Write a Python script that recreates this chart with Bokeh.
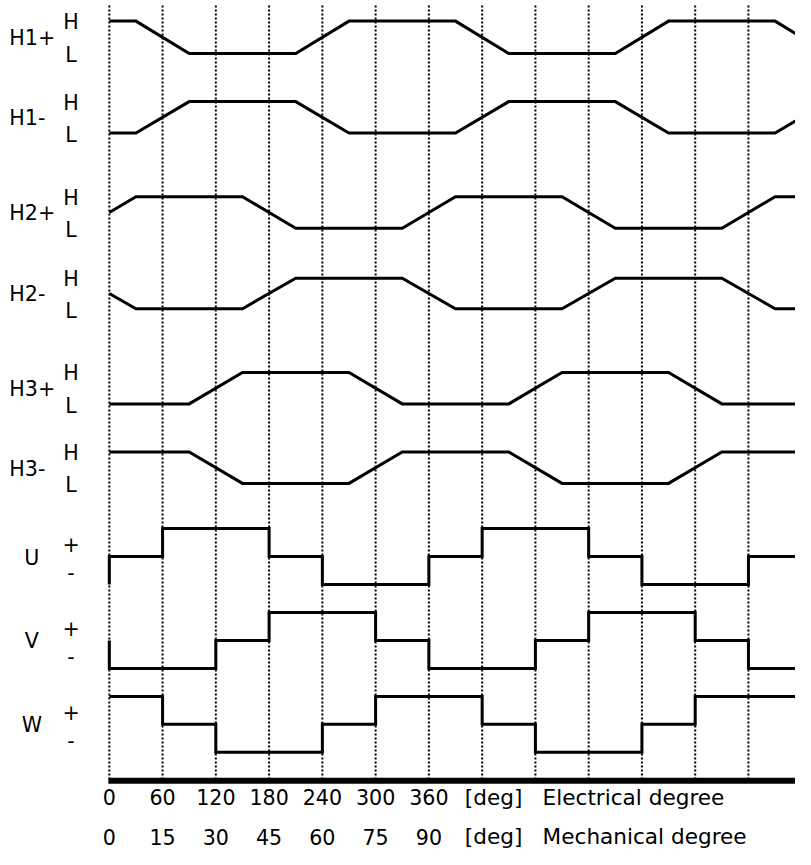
import numpy as np
from bokeh.plotting import figure
from bokeh.models import Range1d
from bokeh.core.properties import value
from bokeh.embed import file_html
from bokeh.resources import INLINE

# ---------------- data (electrical degrees) ----------------
grid_deg = [0, 60, 120, 180, 240, 300, 360, 420, 480, 540, 600, 660, 720]
elec_ticks = [0, 60, 120, 180, 240, 300, 360]
mech_ticks = [0, 15, 30, 45, 60, 75, 90]
pole_pairs = 4
ramp_deg = 60          # width of each Hall transition

hall_names = ["H1+", "H1-", "H2+", "H2-", "H3+", "H3-"]
# centres of transitions, and level (1 = H, 0 = L) before the first one
h1p_edges = [60, 240, 420, 600, 780]
h1p_start = 1
h1m_edges = [60, 240, 420, 600, 780]
h1m_start = 0
h2p_edges = [0, 180, 360, 540, 720]
h2p_start = 0
h2m_edges = [0, 180, 360, 540, 720]
h2m_start = 1
h3p_edges = [120, 300, 480, 660]
h3p_start = 0
h3m_edges = [120, 300, 480, 660]
h3m_start = 1

phase_names = ["U", "V", "W"]
seg_start = [0, 60, 120, 180, 240, 300, 360, 420, 480, 540, 600, 660, 720]
u_levels = [0, 1, 1, 0, -1, -1, 0, 1, 1, 0, -1, -1, 0]
v_levels = [-1, -1, 0, 1, 1, 0, -1, -1, 0, 1, 1, 0, -1]
w_levels = [1, 0, -1, -1, 0, 1, 1, 0, -1, -1, 0, 1, 1]
u_prev, v_prev, w_prev = -1, 0, 1

# ---------------- layout ----------------
REF_W, REF_H = 811, 865            # design coordinates
W, H = 795, 849                    # actual canvas
SC = W / REF_W
PX_PER_DEG = 652.0 / 720.0         # design px per degree
X0 = 111.0                         # design x of 0 deg
x_start = (0 - X0) / PX_PER_DEG
x_end = (REF_W - X0) / PX_PER_DEG


def px(sx):
    """design x (pixels) -> data x (deg)"""
    return (sx - X0) / PX_PER_DEG


def fs(v):
    return "%.1fpx" % (v * SC)


p = figure(width=W, height=H, output_backend="svg", toolbar_location=None,
           x_axis_type=None, y_axis_type=None,
           x_range=Range1d(x_start, x_end), y_range=Range1d(REF_H, 0),
           min_border=0, min_border_left=0, min_border_right=0,
           min_border_top=0, min_border_bottom=0)
p.outline_line_color = None
p.grid.visible = False
p.background_fill_color = "white"
p.border_fill_color = "white"

FONT = value("DejaVu Sans")

# dotted vertical guides
p.segment(x0=grid_deg, x1=grid_deg, y0=[5] * len(grid_deg), y1=[793] * len(grid_deg),
          line_color="black", line_width=2, line_dash="2 2")

# axis line
p.segment(x0=[px(110)], x1=[x_end + 10], y0=[795], y1=[795],
          line_color="black", line_width=6, line_cap="butt")

# Hall rows: (y of H, y of L) in design pixels
hall_rows = [(21, 54), (103, 135), (200, 232), (283, 314), (379, 411), (460, 492)]
hall_data = [(h1p_edges, h1p_start), (h1m_edges, h1m_start), (h2p_edges, h2p_start),
             (h2m_edges, h2m_start), (h3p_edges, h3p_start), (h3m_edges, h3m_start)]


def hall_vertices(edges, start):
    lvl = start
    xs, ys = [-90.0], [float(lvl)]
    for c in edges:
        xs.append(c - ramp_deg / 2); ys.append(lvl)
        lvl = 1 - lvl
        xs.append(c + ramp_deg / 2); ys.append(lvl)
    xs.append(850.0); ys.append(lvl)
    xs, ys = np.array(xs), np.array(ys, dtype=float)
    y0 = np.interp(0.0, xs, ys)
    keep = xs > 0
    return np.concatenate([[0.0], xs[keep]]), np.concatenate([[y0], ys[keep]])


for name, (yh, yl), (edges, start) in zip(hall_names, hall_rows, hall_data):
    xs, lv = hall_vertices(edges, start)
    ys = yl + lv * (yh - yl)
    p.line(xs, ys, line_color="black", line_width=3, line_join="miter")
    ym = (yh + yl) / 2
    p.text([px(9)], [ym + 1], text=[name], text_font=FONT, text_font_size=fs(21),
           text_align="left", text_baseline="middle", text_color="black")
    p.text([px(72), px(72)], [yh + 1, yl + 2], text=["H", "L"], text_font=FONT,
           text_font_size=fs(21), text_align="center", text_baseline="middle",
           text_color="black")

# phase rows: middle level y, half spacing
phase_mid = [566.5, 652.0, 737.5]
HALF = 28.5
phase_data = [(u_levels, u_prev), (v_levels, v_prev), (w_levels, w_prev)]
seg_end = seg_start[1:] + [seg_start[-1] + 120]

for name, ym, (levels, prev) in zip(phase_names, phase_mid, phase_data):
    xs = [0]
    ys = [ym - prev * HALF]
    for a, b, lv in zip(seg_start, seg_end, levels):
        xs += [a, b]
        ys += [ym - lv * HALF, ym - lv * HALF]
    p.line(xs, ys, line_color="black", line_width=3, line_join="miter")
    p.text([px(32)], [ym + 1], text=[name], text_font=FONT, text_font_size=fs(21),
           text_align="center", text_baseline="middle", text_color="black")
    p.text([px(72), px(72)], [ym - 13, ym + 15.5], text=["+", "-"], text_font=FONT,
           text_font_size=fs(21), text_align="center", text_baseline="middle",
           text_color="black")

# bottom scale labels
ELEC_Y, MECH_Y = 812, 852
p.text(elec_ticks, [ELEC_Y] * len(elec_ticks), text=[str(t) for t in elec_ticks],
       text_font=FONT, text_font_size=fs(21), text_align="center",
       text_baseline="middle", text_color="black")
mech_x = [m * pole_pairs for m in mech_ticks]
p.text(mech_x, [MECH_Y] * len(mech_ticks), text=[str(t) for t in mech_ticks],
       text_font=FONT, text_font_size=fs(21), text_align="center",
       text_baseline="middle", text_color="black")
p.text([px(503), px(503)], [ELEC_Y, MECH_Y], text=["[deg]", "[deg]"],
       text_font=FONT, text_font_size=fs(22), text_align="center",
       text_baseline="middle", text_color="black")
p.text([px(553), px(553)], [ELEC_Y, MECH_Y],
       text=["Electrical degree", "Mechanical degree"],
       text_font=FONT, text_font_size=fs(22), text_align="left",
       text_baseline="middle", text_color="black")

open("out.html", "w").write(file_html(p, INLINE))
